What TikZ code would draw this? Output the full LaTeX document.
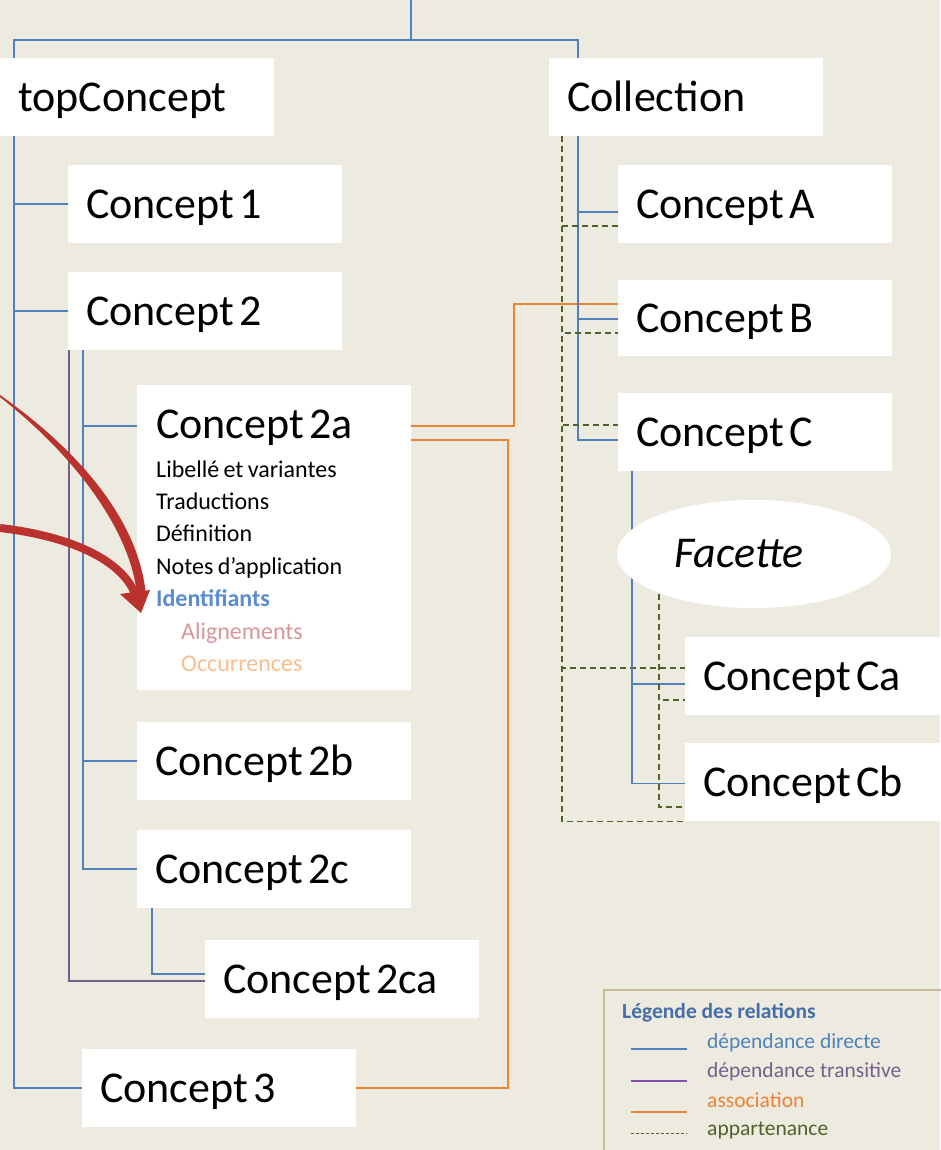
\documentclass[tikz,border=0pt]{standalone}
\usepackage{fontspec}
\setmainfont{Carlito}
\usetikzlibrary{shapes.geometric}
\definecolor{paper}{RGB}{237,234,224}
\definecolor{dirblue}{RGB}{79,129,189}
\definecolor{transpurple}{RGB}{118,96,138}
\definecolor{legpurple}{RGB}{130,82,172}
\definecolor{assocorange}{RGB}{240,130,50}
\definecolor{memgreen}{RGB}{80,98,40}
\definecolor{arrowred}{RGB}{185,50,45}
\definecolor{identblue}{RGB}{91,140,208}
\definecolor{alignpink}{RGB}{217,150,154}
\definecolor{occorange}{RGB}{249,190,140}
\definecolor{legframe}{RGB}{200,188,150}
\definecolor{legtitle}{RGB}{70,110,170}
\pgfdeclarelayer{bg}
\pgfsetlayers{bg,main}
\newcommand\bigtext{\fontsize{44}{50}\selectfont\spaceskip=0.12em\relax}
\newcommand\smalltext{\fontsize{24}{29}\selectfont\spaceskip=0.18em\relax}
\newcommand\legtext{\fontsize{21.5}{25}\selectfont}
\begin{document}
\begin{tikzpicture}[x=1pt,y=-1pt,
	concept/.style={rectangle,fill=white,anchor=north west,minimum height=78pt,
		text width=238pt,inner xsep=18pt,inner ysep=0pt,align=left,
		text height=31pt,text depth=3pt,font=\bigtext,
		execute at begin node={\spaceskip=0.12em\relax}},
	facet/.style={ellipse,fill=white,minimum width=274pt,minimum height=108pt,
		inner sep=0pt,font=\bigtext\itshape},
	direct/.style={draw=dirblue,line width=1.5pt},
	transitive/.style={draw=transpurple,line width=2pt},
	assoc/.style={draw=assocorange,line width=2pt},
	member/.style={draw=memgreen,line width=1.5pt,dash pattern=on 6pt off 4pt},
	listitem/.style={anchor=base west,inner sep=0pt,font=\smalltext},
	legitem/.style={anchor=west,inner sep=0pt,font=\legtext}]
	\useasboundingbox (0,0) rectangle (940,1150);
	% Boxes
	\node[concept] (top) at (0,58) {topConcept};
	\node[concept] (coll) at (549,58) {Collection};
	\node[concept] (c1) at (68,165) {Concept 1};
	\node[concept] (c2) at (68,272) {Concept 2};
	\node[concept,minimum height=305pt,text height=,text depth=] (c2abox) at (137,385) {};
	\node[anchor=base west,inner sep=0pt,font=\bigtext] (c2a) at (156,438) {Concept 2a};
	\foreach \txt/\col/\ind [count=\i from 0] in {Libellé et variantes/black/0,
		Traductions/black/0,Définition/black/0,Notes d’application/black/0,
		\textbf{Identifiants}/identblue/0,Alignements/alignpink/25,Occurrences/occorange/25}
	\node[listitem,text=\col] (item\i) at (156+\ind,477+32.4*\i) {\txt};
	\node[concept] (c2b) at (137,722) {Concept 2b};
	\node[concept] (c2c) at (137,830) {Concept 2c};
	\node[concept] (c2ca) at (205,940) {Concept 2ca};
	\node[concept] (c3) at (82,1049) {Concept 3};
	\node[concept] (cA) at (618,165) {Concept A};
	\node[concept,minimum height=76pt] (cB) at (618,280) {Concept B};
	\node[concept] (cC) at (618,393) {Concept C};
	\node[facet] (facette) at (754,554) {Facette\kern30pt};
	\node[concept,text width=250pt] (cCa) at (685,637) {Concept Ca};
	\node[concept,text width=250pt] (cCb) at (685,743) {Concept Cb};
	% Links
	\begin{pgfonlayer}{bg}
		\fill[paper] (0,0) rectangle (940,1150);
		\coordinate (root) at (411,0);
		\coordinate (fork) at (411,40);
		\draw[direct] (root) -- (fork);
		\draw[direct] ([xshift=14pt]top.north west) |- (fork) -| ([xshift=29pt]coll.north west);
		% topConcept
		\coordinate (spine) at ([xshift=14pt]top.south west);
		\draw[direct] (spine) |- (c3.west);
		\foreach \n in {c1,c2}
		\draw[direct] (spine) |- (\n.west);
		% Concept 2
		\coordinate (sub2) at ([xshift=15pt]c2.south west);
		\coordinate (trans2) at ([xshift=1pt]c2.south west);
		\coordinate (c2awest) at (c2abox.west |- 0,426);
		\coordinate (c2aeast) at (c2abox.east |- 0,426);
		\draw[transitive] (trans2) |- ([yshift=-2pt]c2ca.west);
		\draw[direct] (sub2) |- (c2c.west);
		\draw[direct] (sub2) |- (c2b.west);
		\draw[direct] (sub2) |- (c2awest);
		\draw[direct] ([xshift=15pt]c2c.south west) |- ([yshift=5pt]c2ca.west);
		% associations
		\draw[assoc] (c2aeast) -- ++(103,0) |- ([yshift=14pt]cB.west);
		\draw[assoc] (c3.east) -- ++(152,0) |- ([yshift=-14pt]c2aeast);
		% Collection
		\coordinate (collspine) at ([xshift=29pt]coll.south west);
		\coordinate (collmem) at ([xshift=13pt]coll.south west);
		\foreach \n/\dy in {cA/-8,cB/-1,cC/-8}
		\draw[direct] (collspine) |- ([yshift=\dy pt]\n.west);
		\draw[member] (collmem) |- (cCb.south west);
		\foreach \n/\dy in {cA/-22,cB/-15,cC/7,cCa/8}
		\draw[member] (collmem) |- ([yshift=\dy pt]\n.west);
		% Concept C and Facette
		\coordinate (facdir) at ([xshift=14pt]cC.south west);
		\draw[direct] (facdir) |- ([yshift=-8pt]cCa.west);
		\draw[direct] (facdir) |- ([yshift=-1.5pt]cCb.west);
		\coordinate (facmem) at ([xshift=-95pt]facette.center);
		\draw[member] (facmem) |- ([yshift=-24pt]cCa.west);
		\draw[member] (facmem) |- ([yshift=-25pt]cCb.west);
		% Legend
		\draw[legframe,line width=2pt] (604,990) rectangle (960,1170);
	\end{pgfonlayer}
	\node[anchor=west,inner sep=0pt,font=\legtext\bfseries,text=legtitle] (legend) at (622,1013) {Légende des relations};
	\node[legitem,text=dirblue] (ldirect) at (707,1043) {dépendance directe};
	\node[legitem,text=transpurple] (ltrans) at (707,1072) {dépendance transitive};
	\node[legitem,text=assocorange] (lassoc) at (707,1100) {association};
	\node[legitem,text=memgreen] (lmember) at (707,1130) {appartenance};
	\draw[direct] ([xshift=-76pt,yshift=-6pt]ldirect.west) -- ++(56,0);
	\draw[transitive,draw=legpurple] ([xshift=-76pt,yshift=-9pt]ltrans.west) -- ++(56,0);
	\draw[assoc] ([xshift=-76pt,yshift=-12pt]lassoc.west) -- ++(56,0);
	\draw[member,dash pattern=on 3pt off 2pt,line width=1pt] ([xshift=-76pt,yshift=-3pt]lmember.west) -- ++(56,0);
	% Arrow
	\fill[arrowred] (0,395) .. controls (85,455) and (140,525) .. (146,596)
		-- (137,596) .. controls (132,535) and (80,460) .. (0,397) -- cycle;
	\draw[arrowred,line width=8pt] (0,528) .. controls (70,536) and (122,560) .. (135,594);
	\fill[arrowred] (120,594) -- (150,590) -- (141,613) -- cycle;
\end{tikzpicture}
\end{document}
